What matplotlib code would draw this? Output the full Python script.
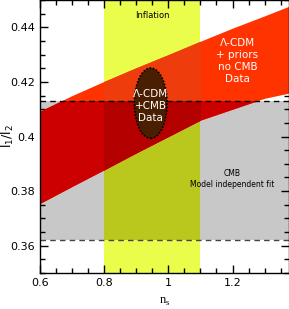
import matplotlib
matplotlib.use('Agg')
import matplotlib.pyplot as plt
from matplotlib.patches import Rectangle, Ellipse
from matplotlib.ticker import MultipleLocator

# red band: Lambda-CDM + priors, no CMB
ns = [0.6, 0.7, 0.8, 0.9, 1.0, 1.1, 1.2, 1.3, 1.38]
band_low = [0.3755, 0.3817, 0.3878, 0.3940, 0.4000, 0.4060, 0.4100, 0.4140, 0.4160]
band_high = [0.4093, 0.4150, 0.4202, 0.4252, 0.4300, 0.4349, 0.4397, 0.4442, 0.4479]

# CMB model independent fit (grey band)
cmb_low, cmb_high = 0.362, 0.413
# inflation range of n_s
infl_low, infl_high = 0.8, 1.1
# Lambda-CDM + CMB ellipse: centre, width, height
ell_center = (0.945, 0.4122)
ell_w, ell_h = 0.102, 0.0258

fig = plt.figure(figsize=(2.89, 3.09), dpi=100)
ax = fig.add_axes([0.1384, 0.1165, 0.8616, 0.8835])

ax.axhspan(cmb_low, cmb_high, color='#c8c8c8', lw=0, zorder=1)
ax.axvspan(infl_low, infl_high, color='#eafd4b', lw=0, zorder=1)
both = Rectangle((infl_low, cmb_low), infl_high - infl_low, cmb_high - cmb_low,
                 color='#bac81e', lw=0, zorder=1)
ax.add_patch(both)

# red band, coloured differently where it lies over the other regions
ax.fill_between(ns, band_low, band_high, color='#ff3300', lw=0, zorder=2)
clip_infl = Rectangle((infl_low, 0.3), infl_high - infl_low, 0.2, transform=ax.transData)
clip_cmb = Rectangle((0.0, cmb_low), 2.0, cmb_high - cmb_low, transform=ax.transData)
clip_both = Rectangle((infl_low, cmb_low), infl_high - infl_low, cmb_high - cmb_low,
                      transform=ax.transData)
for col, clip in [('#ee3c0c', clip_infl), ('#cc0000', clip_cmb), ('#b50000', clip_both)]:
    p = ax.fill_between(ns, band_low, band_high, color=col, lw=0, zorder=3)
    p.set_clip_path(clip)

ax.axhline(cmb_high, color='black', ls=(0, (4, 3)), lw=1, zorder=4)
ax.axhline(cmb_low, color='#444444', ls=(0, (4, 3)), lw=1, zorder=4)

ell = Ellipse(ell_center, ell_w, ell_h, facecolor='#4a1e00', edgecolor='black',
              ls=(0, (1, 1)), lw=1.2, zorder=5)
ax.add_patch(ell)

ax.text(0.95, 0.4442, 'Inflation', fontsize=6, ha='center', va='center', zorder=6)
ax.text(ell_center[0], 0.4113, '\u039b-CDM\n+CMB\nData', color='white', fontsize=7.5,
        ha='center', va='center', linespacing=1.25, zorder=6)
ax.text(1.215, 0.4275, '\u039b-CDM\n+ priors\nno CMB\nData', color='white', fontsize=7.5,
        ha='center', va='center', linespacing=1.25, zorder=6)
ax.text(1.2, 0.3845, 'CMB\nModel independent fit', fontsize=5.5, ha='center', va='center',
        linespacing=1.3, zorder=6)

ax.set_xlim(0.6, 1.376)
ax.set_ylim(0.35, 0.45)
ax.xaxis.set_major_locator(MultipleLocator(0.2))
ax.xaxis.set_minor_locator(MultipleLocator(0.05))
ax.yaxis.set_major_locator(MultipleLocator(0.02))
ax.yaxis.set_minor_locator(MultipleLocator(0.005))
ax.set_xticks([0.6, 0.8, 1.0, 1.2])
ax.set_xticklabels(['0.6', '0.8', '1', '1.2'])
ax.set_yticks([0.36, 0.38, 0.4, 0.42, 0.44])
ax.set_yticklabels(['0.36', '0.38', '0.4', '0.42', '0.44'])
ax.tick_params(which='both', direction='in', top=True, right=True, labelsize=8, width=1)
ax.tick_params(which='major', length=6)
ax.tick_params(which='minor', length=3.5)
for s in ax.spines.values():
    s.set_linewidth(1)
    s.set_zorder(7)

ax.set_xlabel(r'n$_\mathregular{s}$', fontsize=9, family='Liberation Serif', labelpad=6)
ax.set_ylabel(r'l$_\mathregular{1}$/l$_\mathregular{2}$', fontsize=9, va='center')
ax.yaxis.set_label_coords(-0.128, 0.5)

fig.savefig('out.png', dpi=100)
